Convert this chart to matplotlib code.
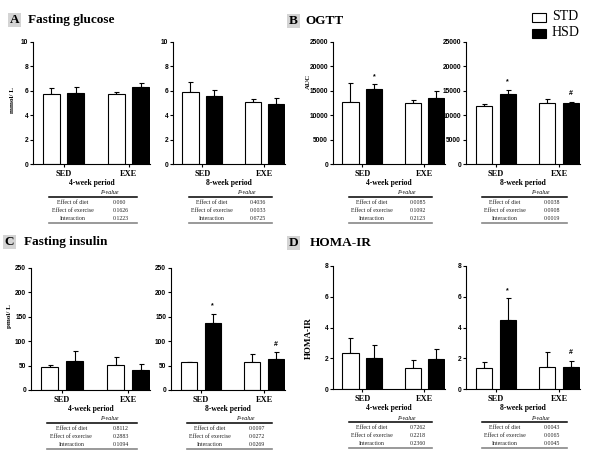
import matplotlib.pyplot as plt
import numpy as np
from matplotlib.patches import Rectangle
from matplotlib.lines import Line2D

W, H = 594, 453
SERIF = "Liberation Serif"
SANS = "Liberation Sans"

groups = ["SED", "EXE"]
diet = ["STD", "HSD"]
effects = ["Effect of diet", "Effect of exercise", "Interaction"]

# means and SEM, order [SED, EXE]
glucose_4w_std = [5.75, 5.70]
glucose_4w_std_sem = [0.45, 0.20]
glucose_4w_hsd = [5.80, 6.35]
glucose_4w_hsd_sem = [0.55, 0.30]
glucose_8w_std = [5.90, 5.05]
glucose_8w_std_sem = [0.80, 0.25]
glucose_8w_hsd = [5.55, 4.95]
glucose_8w_hsd_sem = [0.50, 0.50]

ogtt_4w_std = [12800, 12500]
ogtt_4w_std_sem = [3800, 600]
ogtt_4w_hsd = [15300, 13600]
ogtt_4w_hsd_sem = [1100, 1400]
ogtt_8w_std = [11800, 12600]
ogtt_8w_std_sem = [500, 700]
ogtt_8w_hsd = [14300, 12400]
ogtt_8w_hsd_sem = [900, 400]

insulin_4w_std = [47, 52]
insulin_4w_std_sem = [4, 16]
insulin_4w_hsd = [60, 41]
insulin_4w_hsd_sem = [19, 12]
insulin_8w_std = [57, 57]
insulin_8w_std_sem = [1, 17]
insulin_8w_hsd = [137, 64]
insulin_8w_hsd_sem = [19, 14]

homa_4w_std = [2.37, 1.39]
homa_4w_std_sem = [0.96, 0.50]
homa_4w_hsd = [2.00, 1.98]
homa_4w_hsd_sem = [0.83, 0.59]
homa_8w_std = [1.37, 1.46]
homa_8w_std_sem = [0.39, 0.96]
homa_8w_hsd = [4.52, 1.46]
homa_8w_hsd_sem = [1.37, 0.39]

# significance marks above the HSD bars [SED, EXE]
ogtt_4w_marks = ["*", ""]
ogtt_8w_marks = ["*", "#"]
insulin_8w_marks = ["*", "#"]
homa_8w_marks = ["*", "#"]

glucose_4w_p = ["0.060", "0.1626", "0.1223"]
glucose_8w_p = ["0.4036", "0.0033", "0.6725"]
ogtt_4w_p = ["0.0085", "0.1092", "0.2123"]
ogtt_8w_p = ["0.0038", "0.0908", "0.0019"]
insulin_4w_p = ["0.8112", "0.2883", "0.1094"]
insulin_8w_p = ["0.0097", "0.0272", "0.0269"]
homa_4w_p = ["0.7262", "0.2218", "0.2360"]
homa_8w_p = ["0.0043", "0.0065", "0.0045"]

fig = plt.figure(figsize=(W / 100, H / 100), dpi=100)


def fx(x):
    return x / W


def fy(y):
    return 1 - y / H


def panel(left, right, top, bottom, std, std_sem, hsd, hsd_sem, ymax, ystep,
          pvals, period, ylabel=None, ylab_x=None, ylab_y=None, ylab_size=5,
          marks=None):
    ax = fig.add_axes([fx(left), fy(bottom), (right - left) / W, (bottom - top) / H])
    x = np.arange(len(groups))
    off, width = 0.19, 0.26
    for vals, sem, col, dx in [(std, std_sem, "white", -off), (hsd, hsd_sem, "black", off)]:
        ax.bar(x + dx, vals, width, color=col, edgecolor="black", linewidth=0.8, zorder=2)
        ax.errorbar(x + dx, vals, yerr=[np.zeros(len(vals)), sem], fmt="none",
                    ecolor="black", elinewidth=0.8, capsize=1.8, capthick=0.8, zorder=1)
    if marks:
        for i, m in enumerate(marks):
            if m:
                ax.annotate(m, (x[i] + off, hsd[i] + hsd_sem[i]), xytext=(0, 3),
                            textcoords="offset points", ha="center", va="bottom",
                            fontsize=5, family=SANS, fontweight="bold")
    ax.set_xlim(-0.47, 1.33)
    ax.set_ylim(0, ymax)
    ax.set_yticks(np.arange(0, ymax + ystep / 2, ystep))
    ax.set_xticks(x, groups)
    for s in ["top", "right"]:
        ax.spines[s].set_visible(False)
    for s in ["left", "bottom"]:
        ax.spines[s].set_linewidth(0.8)
    ax.tick_params(axis="y", length=2.5, width=0.8, pad=1, labelsize=4.8)
    ax.tick_params(axis="x", length=2, width=0.8, pad=2)
    for lab in ax.get_yticklabels():
        lab.set_family(SANS)
        lab.set_fontweight("bold")
    for lab in ax.get_xticklabels():
        lab.set_family(SERIF)
        lab.set_fontweight("bold")
        lab.set_fontsize(6)
    if ylabel:
        fig.text(fx(ylab_x), fy(ylab_y), ylabel, rotation=90, ha="center", va="center",
                 family=SERIF, fontweight="bold", fontsize=ylab_size)

    # period caption and p-value table
    mid = (left + right) / 2
    fig.text(fx(mid), fy(bottom + 19), period, ha="center", va="center",
             family=SERIF, fontweight="bold", fontsize=5.5)
    t0, t1 = left + 16, right - 13
    tw = t1 - t0
    fig.text(fx(t0 + 0.69 * tw), fy(bottom + 29), "P-value", ha="center", va="center",
             family=SERIF, style="italic", fontsize=4.2)
    fig.add_artist(Line2D([fx(t0), fx(t1)], [fy(bottom + 33)] * 2, color="black", lw=1.1))
    for k, (lab, pv) in enumerate(zip(effects, pvals)):
        yy = bottom + 38.5 + 8 * k
        fig.text(fx(t0 + 0.27 * tw), fy(yy), lab, ha="center", va="center",
                 family=SERIF, fontsize=4.2, color="#222222")
        fig.text(fx(t0 + 0.73 * tw), fy(yy), pv, ha="left", va="center",
                 family=SERIF, fontsize=4.2, color="#222222")
    fig.add_artist(Line2D([fx(t0), fx(t1)], [fy(bottom + 59)] * 2, color="#888888", lw=1.2))
    return ax


def heading(bx, y, letter, title, tx):
    fig.add_artist(Rectangle((fx(bx), fy(y + 7)), 13 / W, 14 / H, facecolor="#d4d4d4",
                             edgecolor="none", transform=fig.transFigure))
    fig.text(fx(bx + 6.5), fy(y), letter, ha="center", va="center", family=SERIF,
             fontweight="bold", fontsize=9.5)
    fig.text(fx(tx), fy(y), title, ha="left", va="center", family=SERIF,
             fontweight="bold", fontsize=9.5)


heading(8, 20, "A", "Fasting glucose", 28)
heading(287, 21, "B", "OGTT", 305)
heading(3, 242, "C", "Fasting insulin", 24)
heading(287, 243, "D", "HOMA-IR", 310)

panel(33, 150, 42, 164, glucose_4w_std, glucose_4w_std_sem, glucose_4w_hsd,
      glucose_4w_hsd_sem, 10, 2, glucose_4w_p, "4-week period",
      ylabel="mmol/ L", ylab_x=12, ylab_y=100)
panel(173, 285, 42, 164, glucose_8w_std, glucose_8w_std_sem, glucose_8w_hsd,
      glucose_8w_hsd_sem, 10, 2, glucose_8w_p, "8-week period")
panel(333, 445, 42, 164, ogtt_4w_std, ogtt_4w_std_sem, ogtt_4w_hsd,
      ogtt_4w_hsd_sem, 25000, 5000, ogtt_4w_p, "4-week period",
      ylabel="AUC", ylab_x=308, ylab_y=81, marks=ogtt_4w_marks)
panel(466, 580, 42, 164, ogtt_8w_std, ogtt_8w_std_sem, ogtt_8w_hsd,
      ogtt_8w_hsd_sem, 25000, 5000, ogtt_8w_p, "8-week period", marks=ogtt_8w_marks)

panel(31, 150, 268, 390, insulin_4w_std, insulin_4w_std_sem, insulin_4w_hsd,
      insulin_4w_hsd_sem, 250, 50, insulin_4w_p, "4-week period",
      ylabel="pmol/ L", ylab_x=10, ylab_y=316)
panel(171, 285, 268, 390, insulin_8w_std, insulin_8w_std_sem, insulin_8w_hsd,
      insulin_8w_hsd_sem, 250, 50, insulin_8w_p, "8-week period", marks=insulin_8w_marks)
panel(333, 445, 266, 389, homa_4w_std, homa_4w_std_sem, homa_4w_hsd,
      homa_4w_hsd_sem, 8, 2, homa_4w_p, "4-week period",
      ylabel="HOMA-IR", ylab_x=309, ylab_y=338, ylab_size=6.5)
panel(466, 580, 266, 389, homa_8w_std, homa_8w_std_sem, homa_8w_hsd,
      homa_8w_hsd_sem, 8, 2, homa_8w_p, "8-week period", marks=homa_8w_marks)

# legend
for k, (name, col) in enumerate(zip(diet, ["white", "black"])):
    yc = 17 + 16 * k
    fig.add_artist(Rectangle((fx(532), fy(yc + 4.5)), 14 / W, 9 / H, facecolor=col,
                             edgecolor="black", lw=0.8, transform=fig.transFigure))
    fig.text(fx(552), fy(yc), name, ha="left", va="center", family=SERIF, fontsize=10)

fig.savefig("out.png", dpi=100)
